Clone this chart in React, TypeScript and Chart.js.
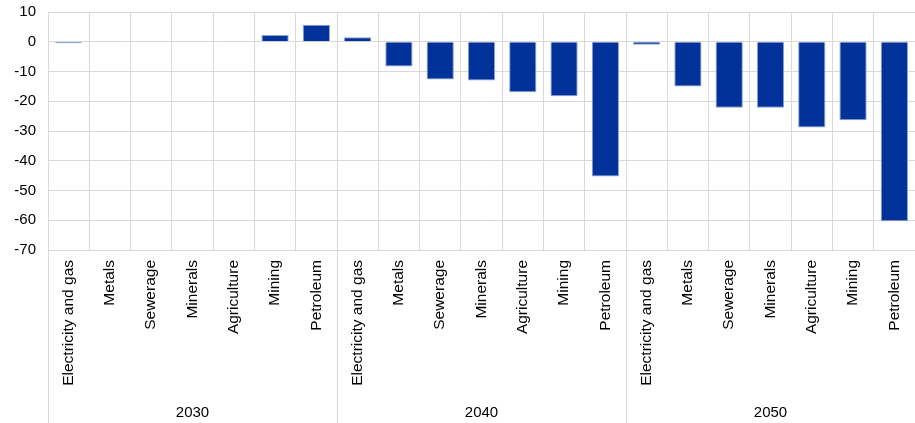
import React, { useEffect, useRef } from "react";
import { Chart, registerables } from "chart.js";

Chart.register(...registerables);

const sectors = ["Electricity and gas", "Metals", "Sewerage", "Minerals", "Agriculture", "Mining", "Petroleum"];
const years = ["2030", "2040", "2050"];
const values2030 = [-0.5, 0.1, 0.1, 0.1, 0.1, 2.3, 5.7];
const values2040 = [1.5, -8.3, -12.7, -13.0, -17.0, -18.3, -45.3];
const values2050 = [-1.0, -15.0, -22.2, -22.2, -28.8, -26.4, -60.3];
const yTicks = [10, 0, -10, -20, -30, -40, -50, -60, -70];

const categories: string[] = [...sectors, ...sectors, ...sectors];
const allValues: number[] = [...values2030, ...values2040, ...values2050];

const FONT = "'Liberation Sans', Arial, sans-serif";
const GRID = "#d9d9d9";

const groupSeparators = {
  id: "groupSeparators",
  afterDraw(chart: any) {
    const xs = chart.scales.x;
    const ctx = chart.ctx;
    const n = categories.length;
    const step = xs.getPixelForValue(1) - xs.getPixelForValue(0);
    ctx.save();
    ctx.strokeStyle = GRID;
    ctx.lineWidth = 1;
    for (let g = 0; g < years.length; g++) {
      const idx = g * sectors.length;
      if (idx >= n) continue;
      const x = Math.round(xs.getPixelForValue(idx) - step / 2) + 0.5;
      ctx.beginPath();
      ctx.moveTo(x, chart.chartArea.bottom);
      ctx.lineTo(x, chart.height);
      ctx.stroke();
    }
    ctx.restore();
  },
};

export default function App() {
  const ref = useRef<HTMLCanvasElement | null>(null);
  useEffect(() => {
    if (!ref.current) return;
    const chart = new Chart(ref.current, {
      type: "bar",
      data: {
        labels: categories,
        datasets: [
          {
            data: allValues,
            backgroundColor: "#003299",
            borderColor: "#8aa2d4",
            borderWidth: 1,
            barPercentage: 0.66,
            categoryPercentage: 1,
          },
        ],
      },
      options: {
        animation: false,
        responsive: true,
        maintainAspectRatio: false,
        layout: { padding: { top: 12, right: 0, left: 0, bottom: 0 } },
        plugins: { legend: { display: false }, tooltip: { enabled: false } },
        scales: {
          x: {
            type: "category",
            position: "bottom",
            weight: 0,
            offset: true,
            grid: { display: true, color: GRID, drawTicks: false, offset: true },
            border: { display: true, color: GRID },
            ticks: {
              autoSkip: false,
              minRotation: 90,
              maxRotation: 90,
              padding: 10,
              color: "#000",
              font: { family: FONT, size: 15.5 },
            },
            afterFit: (s: any) => {
              s.height = 148;
              s.paddingLeft = 0;
              s.paddingRight = 0;
            },
          },
          x2: {
            type: "category",
            position: "bottom",
            weight: 1,
            labels: years,
            offset: true,
            grid: { display: false, drawTicks: false, tickLength: 0 },
            border: { display: false },
            ticks: { padding: 6, color: "#000", font: { family: FONT, size: 15 } },
            afterFit: (s: any) => {
              s.height = 25;
              s.paddingLeft = 0;
              s.paddingRight = 0;
            },
          },
          y: {
            min: -70,
            max: 10,
            afterBuildTicks: (s: any) => {
              s.ticks = yTicks.map((v) => ({ value: v }));
            },
            grid: { color: GRID, drawTicks: false },
            border: { display: false },
            ticks: { padding: 12, color: "#000", font: { family: FONT, size: 15 } },
            afterFit: (s: any) => {
              s.width = 48;
              s.paddingTop = 0;
              s.paddingBottom = 0;
            },
          },
        },
      },
      plugins: [groupSeparators],
    } as any);
    return () => chart.destroy();
  }, []);
  return (
    <div style={{ position: "fixed", left: 0, top: 0, width: 915, height: 423, background: "#fff" }}>
      <canvas ref={ref} />
    </div>
  );
}
